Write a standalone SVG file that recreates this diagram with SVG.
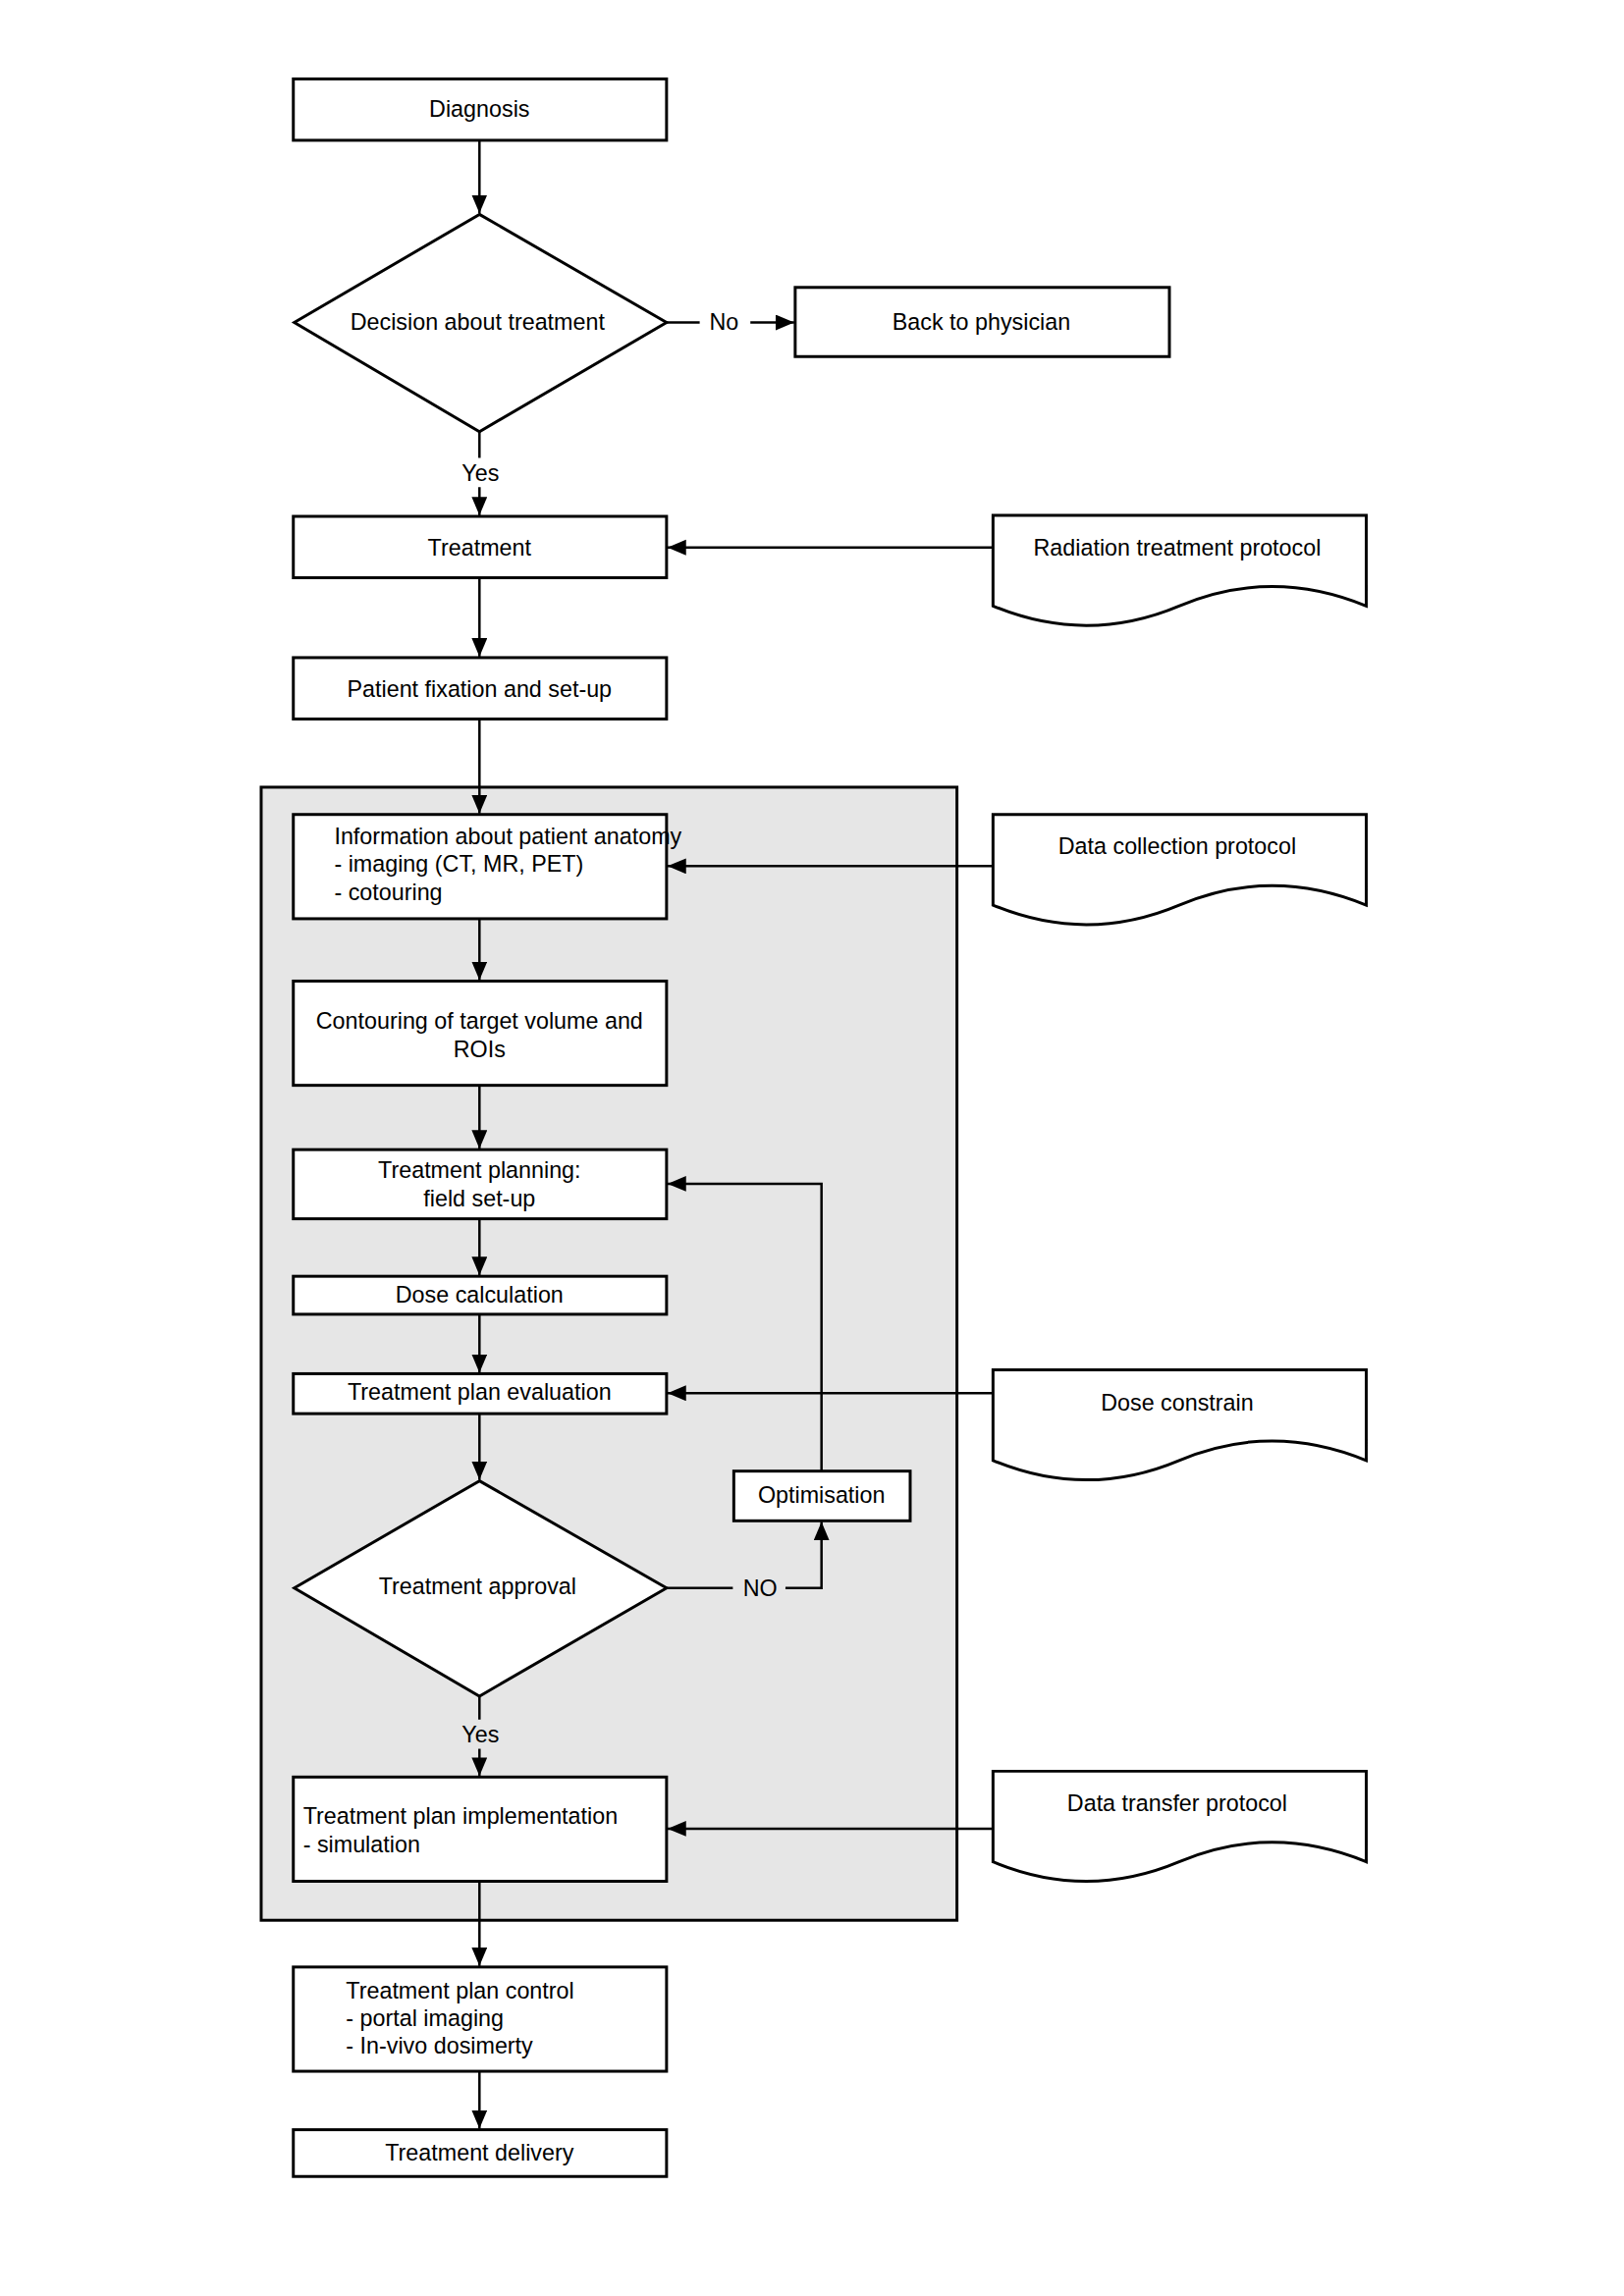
<svg xmlns="http://www.w3.org/2000/svg" width="1654" height="2339" viewBox="0 0 1654 2339">
<style>
.box{fill:#fff;stroke:#000;stroke-width:3}
.doc{fill:#fff;stroke:#000;stroke-width:3}
.cont{fill:#e6e6e6;stroke:#000;stroke-width:3}
.ln{fill:none;stroke:#000;stroke-width:2.5}
text{font-family:"Liberation Sans",Arial,sans-serif;font-size:23.5px;fill:#000}
.c{text-anchor:middle}
</style>
<defs>
<marker id="ah" markerUnits="userSpaceOnUse" markerWidth="20" markerHeight="18" refX="19" refY="8" orient="auto">
<path d="M0,0 L19,8 L0,16 z" fill="#000"/>
</marker>
</defs>
<rect width="1654" height="2339" fill="#fff"/>
<g transform="scale(0.9925)">
<g id="container"><rect class="cont" x="268" y="808" width="714" height="1163"/></g>
<g id="connectors">
<line class="ln" x1="492" y1="144" x2="492" y2="219" marker-end="url(#ah)"/>
<line class="ln" x1="684" y1="331" x2="718" y2="331"/>
<line class="ln" x1="770" y1="331" x2="815" y2="331" marker-end="url(#ah)"/>
<line class="ln" x1="492" y1="443" x2="492" y2="470"/>
<line class="ln" x1="492" y1="500" x2="492" y2="529" marker-end="url(#ah)"/>
<line class="ln" x1="1019" y1="562" x2="685" y2="562" marker-end="url(#ah)"/>
<line class="ln" x1="492" y1="593" x2="492" y2="674" marker-end="url(#ah)"/>
<line class="ln" x1="492" y1="738" x2="492" y2="835" marker-end="url(#ah)"/>
<line class="ln" x1="1019" y1="889" x2="685" y2="889" marker-end="url(#ah)"/>
<line class="ln" x1="492" y1="943" x2="492" y2="1006" marker-end="url(#ah)"/>
<line class="ln" x1="492" y1="1114" x2="492" y2="1179" marker-end="url(#ah)"/>
<line class="ln" x1="492" y1="1251" x2="492" y2="1309" marker-end="url(#ah)"/>
<line class="ln" x1="492" y1="1349" x2="492" y2="1409" marker-end="url(#ah)"/>
<line class="ln" x1="1019" y1="1430" x2="685" y2="1430" marker-end="url(#ah)"/>
<line class="ln" x1="492" y1="1451" x2="492" y2="1519" marker-end="url(#ah)"/>
<polyline class="ln" points="843,1510 843,1215 685,1215" marker-end="url(#ah)"/>
<line class="ln" x1="684" y1="1630" x2="752" y2="1630"/>
<polyline class="ln" points="806,1630 843,1630 843,1562" marker-end="url(#ah)"/>
<line class="ln" x1="492" y1="1741" x2="492" y2="1765"/>
<line class="ln" x1="492" y1="1795" x2="492" y2="1823" marker-end="url(#ah)"/>
<line class="ln" x1="1019" y1="1877" x2="685" y2="1877" marker-end="url(#ah)"/>
<line class="ln" x1="492" y1="1931" x2="492" y2="2018" marker-end="url(#ah)"/>
<line class="ln" x1="492" y1="2126" x2="492" y2="2185" marker-end="url(#ah)"/>
<text class="c" x="743" y="339">No</text>
<text class="c" x="493" y="494">Yes</text>
<text class="c" x="780" y="1638">NO</text>
<text class="c" x="493" y="1788">Yes</text>
</g>
<g id="diagnosis"><rect class="box" x="301" y="81" width="383" height="63"/><text class="c" x="492" y="120">Diagnosis</text></g>
<g id="decision"><polygon class="box" points="492,220 684,331 492,443 302,331"/><text class="c" x="490" y="339">Decision about treatment</text></g>
<g id="back"><rect class="box" x="816" y="295" width="384" height="71"/><text class="c" x="1007" y="339">Back to physician</text></g>
<g id="treatment"><rect class="box" x="301" y="530" width="383" height="63"/><text class="c" x="492" y="570">Treatment</text></g>
<g id="rtp"><path class="doc" d="M1019,529 V622 Q1115,662 1210,622 T1402,622 V529 Z"/><text class="c" x="1208" y="570">Radiation treatment protocol</text></g>
<g id="fixation"><rect class="box" x="301" y="675" width="383" height="63"/><text class="c" x="492" y="715">Patient fixation and set-up</text></g>
<g id="info"><rect class="box" x="301" y="836" width="383" height="107"/>
<text x="343" y="866">Information about patient anatomy</text>
<text x="343" y="895">- imaging (CT, MR, PET)</text>
<text x="343" y="924">- cotouring</text></g>
<g id="dcp"><path class="doc" d="M1019,836 V929 Q1115,969 1210,929 T1402,929 V836 Z"/><text class="c" x="1208" y="877">Data collection protocol</text></g>
<g id="contouring"><rect class="box" x="301" y="1007" width="383" height="107"/>
<text class="c" x="492" y="1056">Contouring of target volume and</text>
<text class="c" x="492" y="1085">ROIs</text></g>
<g id="planning"><rect class="box" x="301" y="1180" width="383" height="71"/>
<text class="c" x="492" y="1209">Treatment planning:</text>
<text class="c" x="492" y="1238">field set-up</text></g>
<g id="dose"><rect class="box" x="301" y="1310" width="383" height="39"/><text class="c" x="492" y="1337">Dose calculation</text></g>
<g id="evaluation"><rect class="box" x="301" y="1410" width="383" height="41"/><text class="c" x="492" y="1437">Treatment plan evaluation</text></g>
<g id="constrain"><path class="doc" d="M1019,1406 V1499 Q1115,1539 1210,1499 T1402,1499 V1406 Z"/><text class="c" x="1208" y="1448">Dose constrain</text></g>
<g id="optimisation"><rect class="box" x="753" y="1510" width="181" height="51"/><text class="c" x="843" y="1543">Optimisation</text></g>
<g id="approval"><polygon class="box" points="492,1520 684,1630 492,1741 302,1630"/><text class="c" x="490" y="1636">Treatment approval</text></g>
<g id="implementation"><rect class="box" x="301" y="1824" width="383" height="107"/>
<text x="311" y="1872">Treatment plan implementation</text>
<text x="311" y="1901">- simulation</text></g>
<g id="transfer"><path class="doc" d="M1019,1818 V1911 Q1115,1951 1210,1911 T1402,1911 V1818 Z"/><text class="c" x="1208" y="1859">Data transfer protocol</text></g>
<g id="control"><rect class="box" x="301" y="2019" width="383" height="107"/>
<text x="355" y="2051">Treatment plan control</text>
<text x="355" y="2080">- portal imaging</text>
<text x="355" y="2108">- In-vivo dosimerty</text></g>
<g id="delivery"><rect class="box" x="301" y="2186" width="383" height="48"/><text class="c" x="492" y="2218">Treatment delivery</text></g>
</g>
</svg>
